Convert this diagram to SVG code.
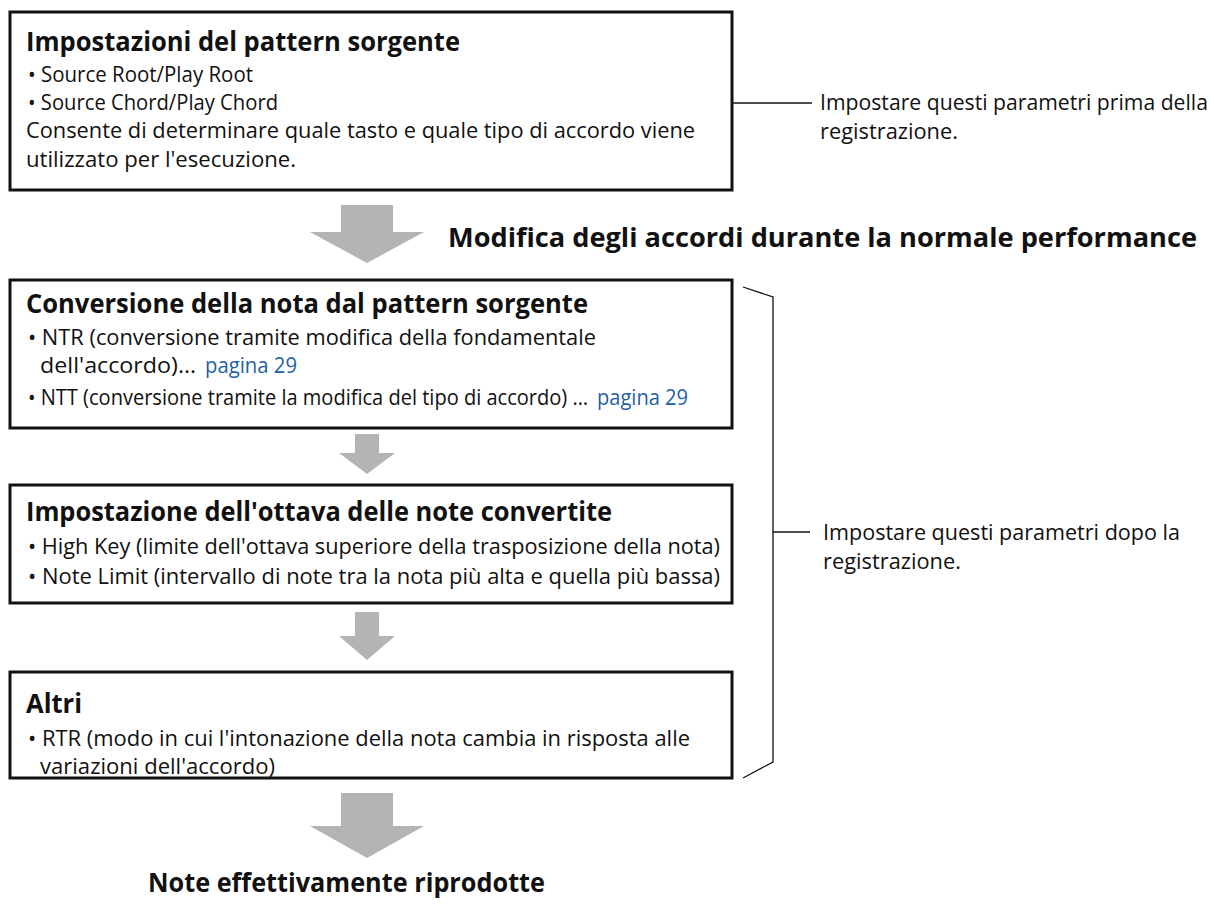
<svg xmlns="http://www.w3.org/2000/svg" width="1214" height="909" viewBox="0 0 1214 909">
<style>
.box{fill:#fff;stroke:#111;stroke-width:3}
.arr{fill:#b4b4b4}
.ln{fill:none;stroke:#111;stroke-width:1.3}
text{font-family:"Open Sans","Noto Sans",sans-serif;fill:#111}
.t{font-size:26px;font-weight:bold}
.b{font-size:22.5px}
.n{font-size:21.5px}
.h{font-size:27px;font-weight:bold}
.lk{fill:#1f5fa8}
</style>
<rect width="1214" height="909" fill="#fff"/>
<g id="connectors">
<path class="arr" d="M341,205 H393 V232 H424 L367,263 L310,232 H341 Z"/>
<path class="arr" d="M355,434 H379 V453 H395 L367,474 L339,453 H355 Z"/>
<path class="arr" d="M355,612 H379 V636 H395 L367,660 L339,636 H355 Z"/>
<path class="arr" d="M341,793 H393 V826 H424 L367,858 L310,826 H341 Z"/>
<path class="ln" d="M732,103 H812"/>
<path class="ln" d="M743,287 L773,297 V762 L743,778"/>
<path class="ln" d="M773,532 H810"/>
</g>
<g id="n1">
<rect class="box" x="10" y="12" width="722" height="178"/>
<text class="t" x="26" y="51" textLength="434" lengthAdjust="spacingAndGlyphs">Impostazioni del pattern sorgente</text>
<text class="b" x="28" y="82" textLength="225" lengthAdjust="spacingAndGlyphs">• Source Root/Play Root</text>
<text class="b" x="28" y="110" textLength="250" lengthAdjust="spacingAndGlyphs">• Source Chord/Play Chord</text>
<text class="b" x="26" y="138" textLength="669" lengthAdjust="spacingAndGlyphs">Consente di determinare quale tasto e quale tipo di accordo viene</text>
<text class="b" x="26" y="167" textLength="270" lengthAdjust="spacingAndGlyphs">utilizzato per l'esecuzione.</text>
</g>
<g id="note1">
<text class="n" x="820" y="110" textLength="388" lengthAdjust="spacingAndGlyphs">Impostare questi parametri prima della</text>
<text class="n" x="820" y="139" textLength="138" lengthAdjust="spacingAndGlyphs">registrazione.</text>
</g>
<g id="lbl1">
<text class="h" x="448" y="247" textLength="749" lengthAdjust="spacingAndGlyphs">Modifica degli accordi durante la normale performance</text>
</g>
<g id="n2">
<rect class="box" x="10" y="280" width="722" height="148"/>
<text class="t" x="26" y="313" textLength="562" lengthAdjust="spacingAndGlyphs">Conversione della nota dal pattern sorgente</text>
<text class="b" x="28" y="345" textLength="568" lengthAdjust="spacingAndGlyphs">• NTR (conversione tramite modifica della fondamentale</text>
<text class="b" x="40" y="373" textLength="156" lengthAdjust="spacingAndGlyphs">dell'accordo)…</text>
<text class="b lk" x="205" y="373" textLength="92" lengthAdjust="spacingAndGlyphs">pagina 29</text>
<text class="b" x="28" y="405" textLength="560" lengthAdjust="spacingAndGlyphs">• NTT (conversione tramite la modifica del tipo di accordo) …</text>
<text class="b lk" x="597" y="405" textLength="91" lengthAdjust="spacingAndGlyphs">pagina 29</text>
</g>
<g id="n3">
<rect class="box" x="10" y="485" width="722" height="118"/>
<text class="t" x="26" y="521" textLength="586" lengthAdjust="spacingAndGlyphs">Impostazione dell'ottava delle note convertite</text>
<text class="b" x="28" y="554" textLength="692" lengthAdjust="spacingAndGlyphs">• High Key (limite dell'ottava superiore della trasposizione della nota)</text>
<text class="b" x="28" y="584" textLength="692" lengthAdjust="spacingAndGlyphs">• Note Limit (intervallo di note tra la nota più alta e quella più bassa)</text>
</g>
<g id="n4">
<rect class="box" x="10" y="672" width="722" height="106"/>
<text class="t" x="26" y="713" textLength="56" lengthAdjust="spacingAndGlyphs">Altri</text>
<text class="b" x="28" y="746" textLength="662" lengthAdjust="spacingAndGlyphs">• RTR (modo in cui l'intonazione della nota cambia in risposta alle</text>
<text class="b" x="40" y="774" textLength="235" lengthAdjust="spacingAndGlyphs">variazioni dell'accordo)</text>
</g>
<g id="note2">
<text class="n" x="823" y="540" textLength="357" lengthAdjust="spacingAndGlyphs">Impostare questi parametri dopo la</text>
<text class="n" x="823" y="569" textLength="138" lengthAdjust="spacingAndGlyphs">registrazione.</text>
</g>
<g id="lbl2">
<text class="h" x="148" y="892" textLength="397" lengthAdjust="spacingAndGlyphs">Note effettivamente riprodotte</text>
</g>
</svg>
